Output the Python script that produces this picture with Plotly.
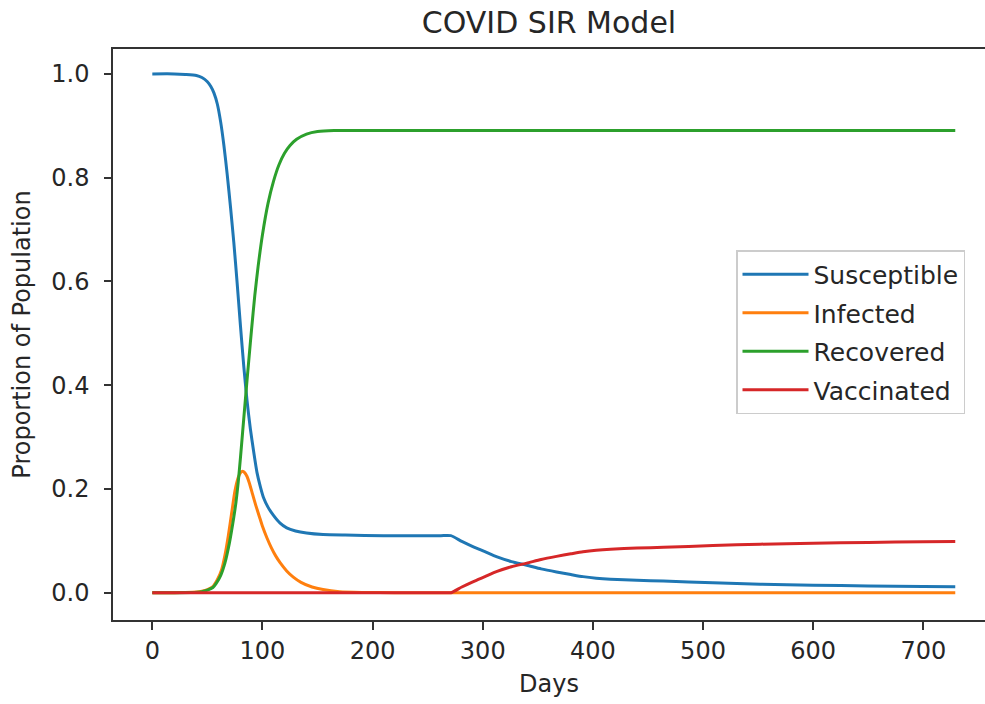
import plotly.graph_objects as go

# ---- data ----
S_days = [0, 20, 30, 40, 45, 50, 53, 56, 59, 62, 65, 68, 71, 74, 77, 80, 83, 86, 89, 92,
          95, 98, 101, 105, 110, 116, 122, 130, 140, 155, 175, 210, 240, 262, 271, 281, 291, 302, 313, 326,
          340, 353, 367, 380, 391, 403, 416, 440, 464, 509, 552, 600, 650, 700, 729]
S_vals = [1.0, 1.0, 0.999, 0.997, 0.993, 0.985, 0.976, 0.963, 0.942, 0.908, 0.862, 0.806, 0.743, 0.675, 0.597, 0.515, 0.437, 0.37, 0.316, 0.272,
          0.232, 0.205, 0.183, 0.165, 0.149, 0.134, 0.125, 0.119, 0.115, 0.112, 0.111, 0.110, 0.110, 0.110, 0.110, 0.099, 0.089, 0.079, 0.069, 0.060,
          0.053, 0.046, 0.040, 0.035, 0.031, 0.028, 0.026, 0.024, 0.0225, 0.019, 0.0165, 0.0145, 0.013, 0.012, 0.0115]

I_days = [0, 20, 30, 40, 45, 50, 55, 59, 63, 66, 69, 72, 75, 78, 80, 82, 84, 86, 88, 91,
          94, 97, 100, 104, 108, 112, 116, 122, 128, 135, 145, 155, 170, 190, 220, 300, 400, 550, 729]
I_vals = [0.0, 0.0, 0.0005, 0.0015, 0.003, 0.006, 0.012, 0.025, 0.045, 0.073, 0.11, 0.153, 0.196, 0.222, 0.231, 0.234, 0.231, 0.224, 0.212, 0.19,
          0.168, 0.148, 0.128, 0.106, 0.087, 0.071, 0.058, 0.042, 0.03, 0.02, 0.011, 0.006, 0.002, 0.0006, 0.0001, 0.0, 0.0, 0.0, 0.0]

R_days = [0, 20, 35, 45, 50, 55, 58, 62, 66, 70, 72, 74, 76, 78, 80, 82, 84, 86, 88, 90,
          93, 96, 100, 105, 110, 115, 120, 125, 131, 140, 150, 165, 190, 300, 450, 600, 729]
R_vals = [0.0, 0.0, 0.0002, 0.002, 0.005, 0.01, 0.018, 0.033, 0.058, 0.096, 0.12, 0.146, 0.175, 0.213, 0.26, 0.31, 0.36, 0.41, 0.458, 0.505,
          0.572, 0.628, 0.69, 0.75, 0.793, 0.825, 0.847, 0.862, 0.874, 0.884, 0.889, 0.891, 0.891, 0.891, 0.891, 0.891, 0.891]

V_days = [0, 60, 120, 180, 230, 255, 265, 271, 281, 291, 302, 313, 326, 340, 353, 367, 380, 391, 403, 416,
          440, 464, 509, 552, 600, 650, 700, 729]
V_vals = [0.0, 0.0, 0.0, 0.0, 0.0, 0.0, 0.0, 0.0, 0.011, 0.021, 0.031, 0.041, 0.05, 0.057, 0.064, 0.070, 0.075, 0.079, 0.082, 0.084,
          0.086, 0.0875, 0.091, 0.0935, 0.0955, 0.097, 0.098, 0.0985]

series = [
    ("Susceptible", S_days, S_vals, "#1f77b4"),
    ("Infected", I_days, I_vals, "#ff7f0e"),
    ("Recovered", R_days, R_vals, "#2ca02c"),
    ("Vaccinated", V_days, V_vals, "#d62728"),
]

x_ticks = [0, 100, 200, 300, 400, 500, 600, 700]
y_ticks = [0.0, 0.2, 0.4, 0.6, 0.8, 1.0]

FONT = "DejaVu Sans"
TXT = "#262626"

fig = go.Figure()
for name, xs, ys, col in series:
    fig.add_trace(go.Scatter(
        x=xs, y=ys, mode="lines", name=name, legendgroup=name,
        line=dict(color=col, width=3, shape="spline", smoothing=0.6),
    ))

fig.update_layout(
    width=985, height=704,
    margin=dict(l=113, r=0, t=49, b=84, autoexpand=False),
    paper_bgcolor="white", plot_bgcolor="white",
    font=dict(family=FONT, size=24, color=TXT),
    title=dict(text="COVID SIR Model", x=0.5, xref="paper", y=1 - 22 / 704, yref="container",
               xanchor="center", yanchor="middle", font=dict(family=FONT, size=30, color=TXT)),
    showlegend=True,
    legend=dict(
        x=(736 - 113) / 872, y=1 - (250 - 49) / 571, xanchor="left", yanchor="top",
        bgcolor="white", bordercolor="#cccccc", borderwidth=1.5,
        font=dict(family=FONT, size=25, color=TXT),
        itemwidth=66, tracegroupgap=3, traceorder="grouped",
    ),
)

fig.update_xaxes(
    range=[-35.7, 756], tickmode="array", tickvals=x_ticks, ticktext=[str(v) for v in x_ticks],
    showgrid=False, zeroline=False,
    showline=True, linecolor="#333333", linewidth=1.5, mirror=True,
    ticks="outside", ticklen=8, tickwidth=1.5, tickcolor="#333333",
    tickfont=dict(family=FONT, size=24, color=TXT), ticklabelstandoff=0,
    title=dict(text="Days", font=dict(family=FONT, size=24, color=TXT), standoff=12),
)
fig.update_yaxes(
    range=[-0.0526, 1.048], tickmode="array", tickvals=y_ticks, ticktext=[f"{v:.1f}" for v in y_ticks],
    showgrid=False, zeroline=False,
    showline=True, linecolor="#333333", linewidth=1.5, mirror=False,
    ticks="outside", ticklen=7, tickwidth=1.5, tickcolor="#333333",
    tickfont=dict(family=FONT, size=24, color=TXT), ticklabelstandoff=10,
    title=dict(text="Proportion of Population", font=dict(family=FONT, size=24, color=TXT), standoff=14),
)

fig.write_html("out.html")
